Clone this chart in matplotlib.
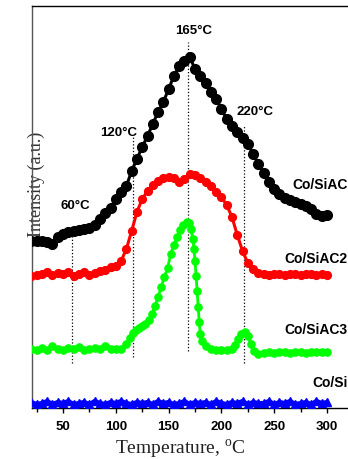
import numpy as np
import matplotlib
matplotlib.use("Agg")
import matplotlib.pyplot as plt
from matplotlib.ticker import MultipleLocator

plt.rcParams["mathtext.fontset"] = "custom"
plt.rcParams["mathtext.rm"] = "Liberation Serif"

SANS = "Liberation Sans"
SERIF = "Liberation Serif"

# TPR profiles, curves stacked with offsets (a.u.)
temp = np.arange(20, 305, 5)

i_siac = [167, 167, 167, 166, 164, 171, 174, 176, 177, 178, 179, 180, 183, 189, 195,
          200, 209, 216, 222, 237, 249, 261, 272, 284, 296, 306, 319, 332, 342, 347,
          351, 339, 332, 325, 316, 309, 299, 289, 282, 276, 270, 264, 254, 244, 235,
          226, 219, 214, 210, 208, 206, 204, 202, 199, 194, 192, 193]

i_siac2 = [132, 133, 134, 136, 133, 135, 134, 136, 132, 134, 136, 133, 135, 137, 138,
           141, 142, 147, 159, 177, 196, 209, 217, 223, 227, 230, 231, 230, 226, 229,
           234, 233, 230, 226, 222, 216, 211, 203, 191, 173, 157, 145, 139, 135, 134,
           133, 134, 134, 133, 134, 134, 133, 134, 134, 133, 134, 133]

i_si = [6, 4, 5, 7, 4, 6, 5, 7, 4, 5, 6, 4, 7, 5, 4, 6, 5, 7, 5, 4, 6, 5, 6, 4, 7, 5,
        6, 4, 5, 7, 4, 6, 5, 6, 4, 7, 5, 4, 6, 5, 7, 4, 6, 5, 5, 7, 4, 6, 5, 7, 4, 5,
        6, 4, 7, 5, 6]

# Co/SiAC3 was sampled more finely around its sharp peaks
t_siac3 = [20, 25, 30, 35, 40, 45, 50, 55, 60, 65, 70, 75, 80, 85, 90, 95, 100, 105,
           110, 113, 116, 119, 122, 125, 128, 131, 134, 137, 140, 143, 146, 149, 152,
           155, 158, 161, 164, 167, 169, 171, 173, 174, 175, 176, 177, 178, 179, 180,
           182, 185, 190, 195, 200, 205, 210, 213, 216, 219, 222, 225, 228, 231, 235,
           240, 245, 250, 255, 260, 265, 270, 275, 280, 285, 290, 295, 300]
i_siac3 = [59, 58, 60, 58, 62, 59, 58, 60, 59, 61, 58, 59, 60, 59, 62, 59, 59, 59,
           64, 70, 75, 78, 80, 82, 84, 88, 94, 102, 111, 121, 131, 140, 154,
           163, 171, 178, 183, 186, 185, 179, 169, 159, 147, 132, 117, 101, 86, 74,
           67, 62, 59, 58, 58, 58, 59, 63, 69, 74, 76, 72, 64, 57, 54,
           55, 56, 55, 56, 56, 55, 56, 56, 55, 56, 56, 56, 56]

# reduction peak markers: position, line span, label
peak_t = [58.7, 116.5, 168.6, 221.6]
peak_lo = [45, 51, 57, 45]
peak_hi = [180, 271, 366, 282]
peak_txt = ["60°C", "120°C", "165°C", "220°C"]
peak_txt_xy = [(61.5, 203), (103, 276), (174, 378), (232, 297)]

fig = plt.figure(figsize=(3.48, 4.60), dpi=100)
ax = fig.add_axes([0.0931, 0.1109, 0.9073, 0.8739])

ax.plot(temp, i_siac, "-o", color="black", ms=7, lw=2.2, zorder=4)
ax.plot(temp, i_siac2, "-o", color="#ff0000", ms=5.6, lw=2.2, zorder=4)
ax.plot(t_siac3, i_siac3, "-o", color="#00ff00", ms=5.2, lw=2, zorder=4)
ax.plot(temp, i_si, "-^", color="#0000ff", ms=5.5, lw=3, zorder=4)

ax.vlines(peak_t, peak_lo, peak_hi, colors="black", linestyles=":", lw=0.9, zorder=2)
for (x, y), s in zip(peak_txt_xy, peak_txt):
    ax.text(x, y, s, ha="center", va="center", fontsize=9.5, fontweight="bold",
            family=SANS, zorder=5)

names = ["Co/SiAC", "Co/SiAC2", "Co/SiAC3", "Co/Si"]
name_y = [224, 150, 79, 26]
for s, y in zip(names, name_y):
    ax.text(319.5, y, s, ha="right", va="center", fontsize=10, fontweight="bold",
            family=SANS, zorder=5, clip_on=False)

# y label sits inside the frame, partly covered by the top curve
ax.text(24.5, 225, "Intensity (a.u.)", rotation=90, ha="center", va="center",
        fontsize=13, family=SERIF, color="#333333", zorder=1, clip_on=False)

ax.set_xlim(21, 320)
ax.set_ylim(0, 402)
ax.set_yticks([])
ax.xaxis.set_major_locator(MultipleLocator(50))
ax.xaxis.set_minor_locator(MultipleLocator(25))
ax.tick_params(axis="x", which="major", direction="out", length=3.5, width=1, pad=5)
ax.tick_params(axis="x", which="minor", direction="out", length=3, width=1)
for lab in ax.get_xticklabels():
    lab.set_fontfamily(SANS)
    lab.set_fontweight("bold")
    lab.set_fontsize(9.5)

ax.spines["right"].set_visible(False)
for k in ["left", "bottom", "top"]:
    ax.spines[k].set_linewidth(1.0)
ax.spines["left"].set_color("#555555")

fig.text(0.517, 0.024, "Temperature, $^{\\rm o}$C", ha="center", va="center",
         fontsize=14, family=SERIF, color="#222222")

fig.savefig("out.png", dpi=100)
